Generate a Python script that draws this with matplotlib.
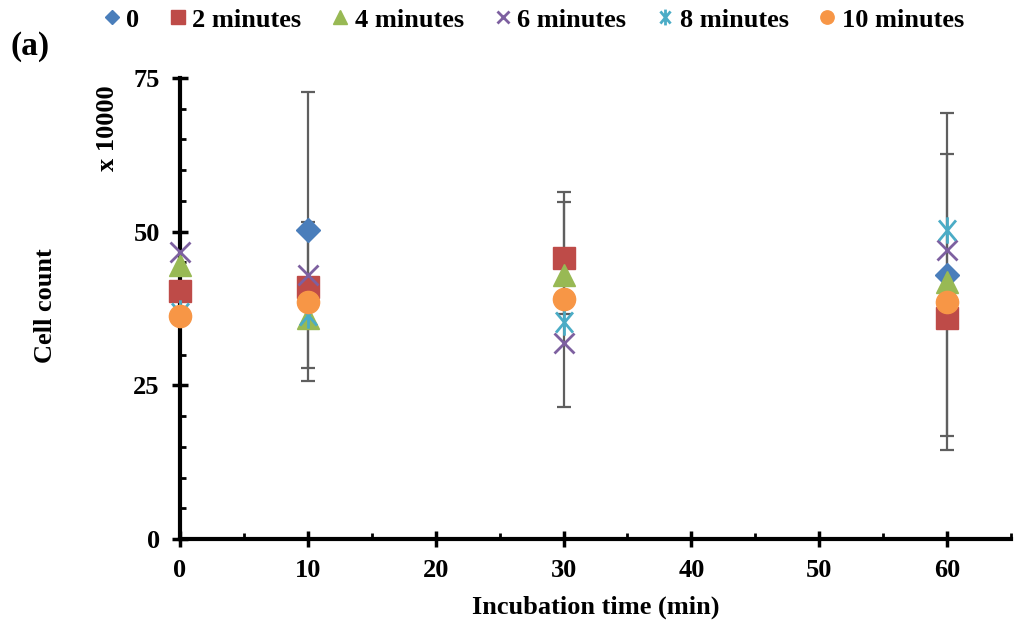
import numpy as np
import matplotlib
matplotlib.use("Agg")
import matplotlib.pyplot as plt
from matplotlib.path import Path
from matplotlib.ticker import MultipleLocator

plt.rcParams['font.family'] = ['Liberation Serif', 'DejaVu Serif']
plt.rcParams['font.weight'] = 'bold'

# Incubation times (min)
times = [0, 10, 30, 60]

# Series labels (exposure duration)
labels = ["0", "2 minutes", "4 minutes", "6 minutes", "8 minutes", "10 minutes"]

# Mean cell count (x 10000) per series; nan = no point
mean_0 = [np.nan, 50.3, np.nan, 43.0]
mean_2 = [40.3, 41.0, 45.7, 36.0]
mean_4 = [44.6, 36.0, 43.0, 41.8]
mean_6 = [46.7, 42.9, 31.9, 47.0]
mean_8 = [36.8, 36.5, 35.3, 50.3]
mean_10 = [36.2, 38.6, 39.0, 38.6]

# Standard deviations (0 = no error bar drawn)
sd_0 = [0, 22.4, 0, 26.3]
sd_2 = [0, 0, 9.1, 0]
sd_4 = [0, 0, 0, 0]
sd_6 = [0, 0, 0, 0]
sd_8 = [0, 0, 0, 0]
sd_10 = [0, 12.9, 17.5, 24.1]

means = [mean_0, mean_2, mean_4, mean_6, mean_8, mean_10]
sds = [sd_0, sd_2, sd_4, sd_6, sd_8, sd_10]

colors = ["#4A7EBB", "#BE4B48", "#98B954", "#7D60A0", "#4BACC6", "#F79646"]

# asterisk marker: vertical stroke plus two diagonals
a = np.deg2rad(50)
ast = Path([(0, -1), (0, 1),
            (-np.cos(a), -np.sin(a)), (np.cos(a), np.sin(a)),
            (-np.cos(a), np.sin(a)), (np.cos(a), -np.sin(a))],
           [Path.MOVETO, Path.LINETO, Path.MOVETO, Path.LINETO,
            Path.MOVETO, Path.LINETO])

styles = [
    dict(marker="D", ms=12.5),
    dict(marker="s", ms=16),
    dict(marker="^", ms=16),
    dict(marker="x", ms=15, mew=2.0),
    dict(marker=ast, ms=19, mew=2.0),
    dict(marker="o", ms=16),
]

fig = plt.figure(figsize=(10.14, 6.31), dpi=100)
ax = fig.add_axes([0.1775, 0.1458, 0.8195, 0.7306])

# error bars below the markers
for m, s in zip(means, sds):
    t = [x for x, e in zip(times, s) if e > 0]
    y = [v for v, e in zip(m, s) if e > 0]
    e = [e for e in s if e > 0]
    if t:
        ax.errorbar(t, y, yerr=e, fmt="none", ecolor="#5f5f5f",
                    elinewidth=1.6, capsize=5, capthick=1.6, zorder=2)

handles = []
for m, lab, c, st in zip(means, labels, colors, styles):
    h, = ax.plot(times, m, linestyle="none", color=c, mec=c, label=lab,
                 zorder=3, clip_on=False, **st)
    handles.append(h)

ax.set_xlim(0, 65)
ax.set_ylim(0, 75)
ax.xaxis.set_major_locator(MultipleLocator(10))
ax.xaxis.set_minor_locator(MultipleLocator(5))
ax.yaxis.set_major_locator(MultipleLocator(25))
ax.yaxis.set_minor_locator(MultipleLocator(5))
ax.set_xticks(range(0, 61, 10))

for side in ("top", "right"):
    ax.spines[side].set_visible(False)
for side in ("left", "bottom"):
    ax.spines[side].set_linewidth(3)
    ax.spines[side].set_zorder(2.5)

ax.tick_params(which="major", direction="inout", length=11, width=2.5,
               labelsize=19, pad=9)
ax.tick_params(which="minor", direction="in", length=4, width=2)
for lbl in ax.get_xticklabels() + ax.get_yticklabels():
    lbl.set_fontweight("bold")

ax.set_xlabel("Incubation time (min)", fontsize=19, fontweight="bold", labelpad=10)
fig.text(46 / 1014, 1 - 306 / 631, "Cell count", rotation=90, fontsize=19,
         fontweight="bold", ha="center", va="center")
fig.text(107 / 1014, 1 - 128 / 631, "x 10000", rotation=90, fontsize=19,
         fontweight="bold", ha="center", va="center")
fig.text(10 / 1014, 1 - 46 / 631, "(a)", fontsize=24, fontweight="bold",
         ha="left", va="center")

fig.legend(handles=handles, loc="center left", bbox_to_anchor=(101 / 1014, 1 - 20 / 631),
           ncol=6, frameon=False, handlelength=0.8, handletextpad=0.15,
           columnspacing=1.07, markerscale=0.6, borderpad=0, borderaxespad=0,
           prop=dict(size=19, weight="bold"))

fig.savefig("out.png", dpi=100)
